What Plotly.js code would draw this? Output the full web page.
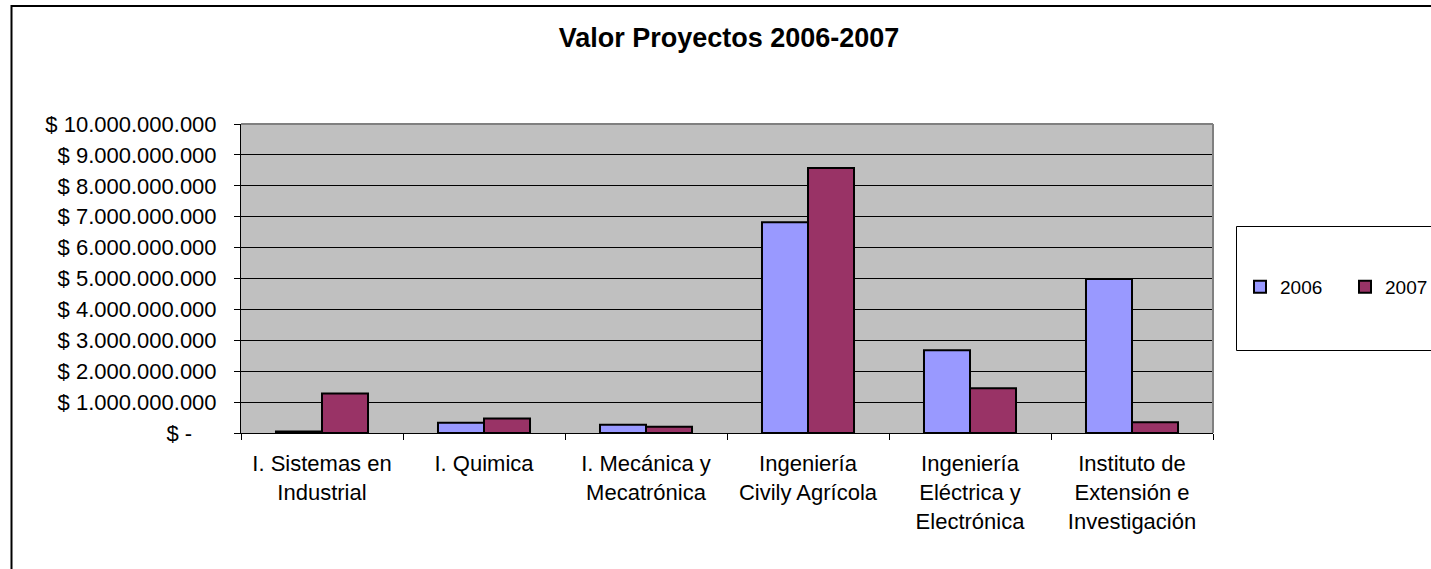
<!DOCTYPE html>
<html>
<head>
<meta charset="utf-8">
<script src="https://cdn.plot.ly/plotly-3.0.1.min.js"></script>
<style>
html, body { margin: 0; padding: 0; background: #fff; }
#chart { width: 1431px; height: 569px; }
</style>
</head>
<body>
<div id="chart"></div>
<script>
// ---- data ----
const categories = [
  "I. Sistemas en Industrial",
  "I. Quimica",
  "I. Mecánica y Mecatrónica",
  "Ingeniería Civily Agrícola",
  "Ingeniería Eléctrica y Electrónica",
  "Instituto de Extensión e Investigación"
];
const categoryLabels = [
  "I. Sistemas en<br>Industrial",
  "I. Quimica",
  "I. Mecánica y<br>Mecatrónica",
  "Ingeniería<br>Civily Agrícola",
  "Ingeniería<br>Eléctrica y<br>Electrónica",
  "Instituto de<br>Extensión e<br>Investigación"
];
const seriesNames = ["2006", "2007"];
const values2006 = [50000000, 330000000, 270000000, 6820000000, 2680000000, 4980000000];
const values2007 = [1280000000, 470000000, 200000000, 8580000000, 1450000000, 350000000];
const yTickValues = [0, 1e9, 2e9, 3e9, 4e9, 5e9, 6e9, 7e9, 8e9, 9e9, 1e10];
const yTickLabels = [
  "$ -\u00A0\u00A0\u00A0\u00A0",
  "$ 1.000.000.000", "$ 2.000.000.000", "$ 3.000.000.000", "$ 4.000.000.000",
  "$ 5.000.000.000", "$ 6.000.000.000", "$ 7.000.000.000", "$ 8.000.000.000",
  "$ 9.000.000.000", "$ 10.000.000.000"
];
const chartTitle = "Valor Proyectos 2006-2007";

// ---- layout geometry (pixels) ----
const W = 1431, H = 569;
const M = { l: 241, r: 218, t: 124, b: 136, autoexpand: false };
const pw = W - M.l - M.r, ph = H - M.t - M.b;
const px = x => (x - M.l) / pw;          // page px -> paper x
const py = y => (H - M.b - y) / ph;      // page px -> paper y

const FONT = "Arial, 'Liberation Sans', sans-serif";

const traces = [
  {
    type: "bar", name: seriesNames[0], x: categories, y: values2006,
    marker: { color: "#9999FF", line: { color: "#000000", width: 2 } }
  },
  {
    type: "bar", name: seriesNames[1], x: categories, y: values2007,
    marker: { color: "#993366", line: { color: "#000000", width: 2 } }
  }
];

const layout = {
  width: W, height: H,
  margin: M,
  paper_bgcolor: "#ffffff",
  plot_bgcolor: "#C0C0C0",
  font: { family: FONT, color: "#000000", size: 22 },
  title: {
    text: "<b>" + chartTitle + "</b>",
    font: { family: FONT, size: 27, color: "#000" },
    xref: "container", yref: "container",
    x: 729 / W, y: 1 - 38 / H, xanchor: "center", yanchor: "middle"
  },
  barmode: "group",
  bargap: 0.432,
  bargroupgap: 0,
  showlegend: true,
  legend: {
    orientation: "h",
    x: px(1240), y: py(287), xanchor: "left", yanchor: "middle",
    bgcolor: "rgba(0,0,0,0)", borderwidth: 0,
    font: { family: FONT, size: 19, color: "#000" },
    entrywidth: 60, entrywidthmode: "pixels",
    traceorder: "normal"
  },
  xaxis: {
    type: "category",
    tickmode: "array", tickvals: categories, ticktext: categoryLabels,
    tickson: "boundaries",
    ticks: "outside", ticklen: 6, tickcolor: "#000", tickwidth: 1,
    showline: true, linecolor: "#000", linewidth: 1,
    showgrid: false, zeroline: false,
    tickfont: { family: FONT, size: 22, color: "#000" },
    ticklabelstandoff: 11,
    fixedrange: true
  },
  yaxis: {
    range: [0, 1e10],
    tickmode: "array", tickvals: yTickValues, ticktext: yTickLabels,
    ticks: "outside", ticklen: 6, tickcolor: "#000", tickwidth: 1,
    showline: true, linecolor: "#000", linewidth: 1,
    showgrid: true, gridcolor: "#000", gridwidth: 1,
    zeroline: false,
    tickfont: { family: FONT, size: 22, color: "#000" },
    ticklabelstandoff: 13,
    fixedrange: true
  },
  shapes: [
    // plot area gray border (top & right)
    { type: "line", xref: "paper", yref: "paper", x0: 0, x1: 1, y0: 1, y1: 1,
      line: { color: "#808080", width: 2 }, layer: "above" },
    { type: "line", xref: "paper", yref: "paper", x0: 1, x1: 1, y0: 0, y1: 1,
      line: { color: "#808080", width: 2 }, layer: "above" },
    // outer chart border
    { type: "rect", xref: "paper", yref: "paper",
      x0: px(11.5), x1: px(1500), y0: py(6), y1: py(700),
      line: { color: "#000", width: 2 }, fillcolor: "rgba(0,0,0,0)", layer: "below" },
    // legend box
    { type: "rect", xref: "paper", yref: "paper",
      x0: px(1236.5), x1: px(1500), y0: py(226.5), y1: py(350.5),
      line: { color: "#000", width: 1 }, fillcolor: "rgba(0,0,0,0)", layer: "below" }
  ]
};

Plotly.newPlot("chart", traces, layout, { displayModeBar: false, staticPlot: true });
</script>
</body>
</html>
